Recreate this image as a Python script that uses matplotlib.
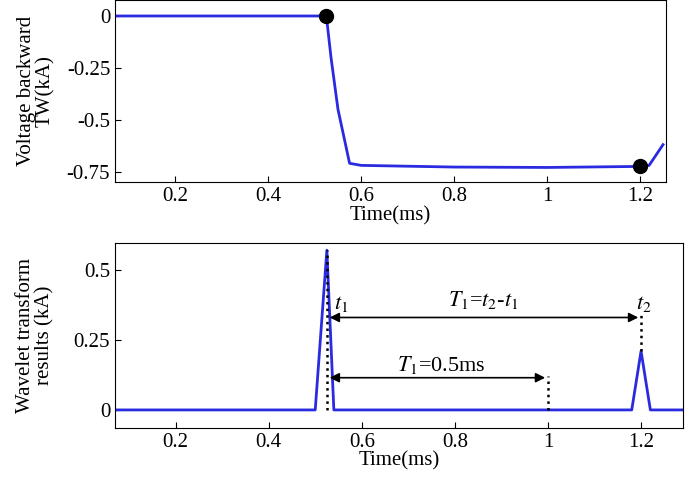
import matplotlib
matplotlib.use("Agg")
import matplotlib.pyplot as plt

plt.rcParams["font.family"] = "Liberation Serif"
plt.rcParams["mathtext.fontset"] = "stix"
plt.rcParams["font.size"] = 15

t_top = [0.07, 0.3, 0.5, 0.525, 0.535, 0.55, 0.575, 0.6, 0.8, 1.0, 1.2, 1.22, 1.25]
v_top = [0, 0, 0, 0, -0.2, -0.45, -0.71, -0.72, -0.728, -0.73, -0.725, -0.72, -0.62]
dots_t = [0.525, 1.2]
dots_v = [0, -0.725]

t_bot = [0.07, 0.5, 0.525, 0.54, 0.55, 1.18, 1.2, 1.22, 1.29]
v_bot = [0, 0, 0.57, 0, 0, 0, 0.21, 0, 0]

xticks = [0.2, 0.4, 0.6, 0.8, 1.0, 1.2]
xlabels = ["0.2", "0.4", "0.6", "0.8", "1", "1.2"]

fig = plt.figure(figsize=(6.85, 4.84), dpi=100)
ax1 = fig.add_axes([0.168, 0.624, 0.804, 0.376])
ax2 = fig.add_axes([0.168, 0.116, 0.829, 0.382])

col = "#2a2ae0"
ax1.plot(t_top, v_top, color=col, lw=2)
ax1.plot(dots_t, dots_v, "o", color="black", ms=10, clip_on=False, zorder=5)
ax1.set_xlim(0.07, 1.256)
ax1.set_ylim(-0.8, 0.077)
ax1.set_yticks([0, -0.25, -0.5, -0.75])
ax1.set_yticklabels(["0", "-0.25", "-0.5", "-0.75"])
ax1.set_xticks(xticks)
ax1.set_xticklabels(xlabels)
ax1.set_xlabel("Time(ms)", labelpad=0)
ax1.set_ylabel("Voltage backward\nTW(kA)", linespacing=1.0, labelpad=8)

ax2.plot(t_bot, v_bot, color=col, lw=2)
ax2.set_xlim(0.07, 1.29)
ax2.set_ylim(-0.064, 0.596)
ax2.set_yticks([0, 0.25, 0.5])
ax2.set_yticklabels(["0", "0.25", "0.5"])
ax2.set_xticks(xticks)
ax2.set_xticklabels(xlabels)
ax2.set_xlabel("Time(ms)", labelpad=0)
ax2.set_ylabel("Wavelet transform\nresults (kA)", linespacing=1.0, labelpad=14)

for a in (ax1, ax2):
    a.tick_params(direction="in", length=4)

ax2.plot([0.525, 0.525], [0, 0.57], "k:", lw=1.8)
ax2.plot([1.0, 1.0], [0, 0.12], "k:", lw=1.8)
ax2.plot([1.2, 1.2], [0.21, 0.34], "k:", lw=1.8)
ap = dict(arrowstyle="<|-|>", color="black", lw=1.2, mutation_scale=14)
ax2.annotate("", xy=(0.525, 0.33), xytext=(1.2, 0.33), arrowprops=ap)
ax2.annotate("", xy=(0.525, 0.115), xytext=(1.0, 0.115), arrowprops=ap)
ax2.text(0.54, 0.36, "$t_1$", fontsize=16)
ax2.text(1.19, 0.36, "$t_2$", fontsize=16)
ax2.text(0.86, 0.37, "$T_1$=$t_2$-$t_1$", ha="center", fontsize=16)
ax2.text(0.77, 0.14, "$T_1$=0.5ms", ha="center", fontsize=16)

fig.savefig("out.png", dpi=100)
